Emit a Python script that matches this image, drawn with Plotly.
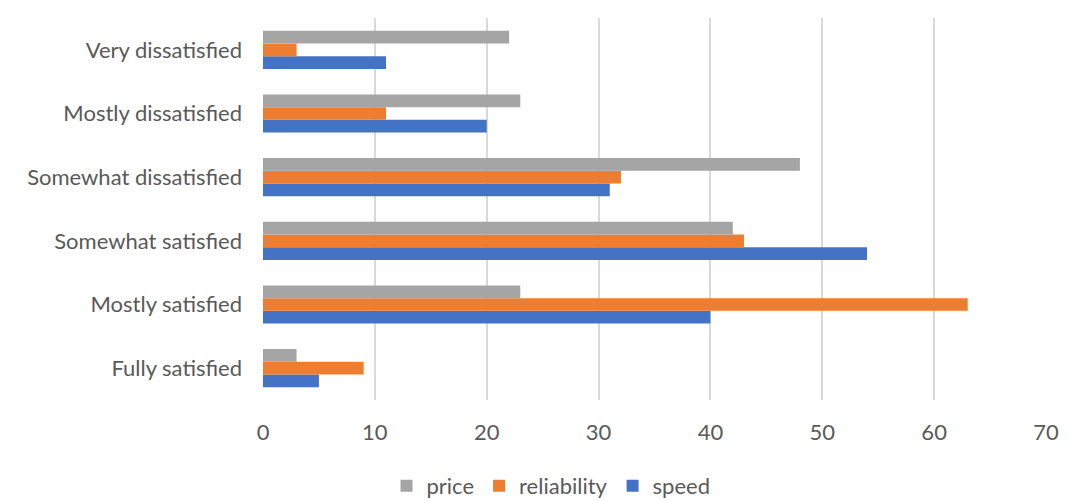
import plotly.graph_objects as go

categories = ["Fully satisfied", "Mostly satisfied", "Somewhat satisfied",
              "Somewhat dissatisfied", "Mostly dissatisfied", "Very dissatisfied"]
speed = [5, 40, 54, 31, 20, 11]
reliability = [9, 63, 43, 32, 11, 3]
price = [3, 23, 42, 48, 23, 22]
x_ticks = [0, 10, 20, 30, 40, 50, 60, 70]

fig = go.Figure()
for name, vals, color in [("speed", speed, "#4472C4"),
                          ("reliability", reliability, "#ED7D31"),
                          ("price", price, "#A5A5A5")]:
    fig.add_trace(go.Bar(y=categories, x=vals, name=name, orientation="h",
                         marker=dict(color=color, line=dict(width=0))))

fig.update_layout(
    width=1086, height=501,
    barmode="group", bargap=0.4, bargroupgap=0,
    plot_bgcolor="white", paper_bgcolor="white",
    margin=dict(l=255, r=48, t=10, b=109, autoexpand=False),
    font=dict(family="Lato, Carlito, Calibri, sans-serif", size=22, color="#595959"),
    legend=dict(orientation="h", traceorder="reversed", xref="container", x=0.5,
                xanchor="center", yref="container", y=0.046, yanchor="middle",
                font=dict(size=22, color="#595959"), itemwidth=30),
    xaxis=dict(range=[0, 70], tickvals=x_ticks, showgrid=True, gridcolor="#D9D9D9",
               gridwidth=1.5, zeroline=False, showline=False, ticks="",
               ticklabelstandoff=17),
    yaxis=dict(showgrid=False, showline=False, ticks="", ticklabelstandoff=20),
)
fig.write_html("out.html")
